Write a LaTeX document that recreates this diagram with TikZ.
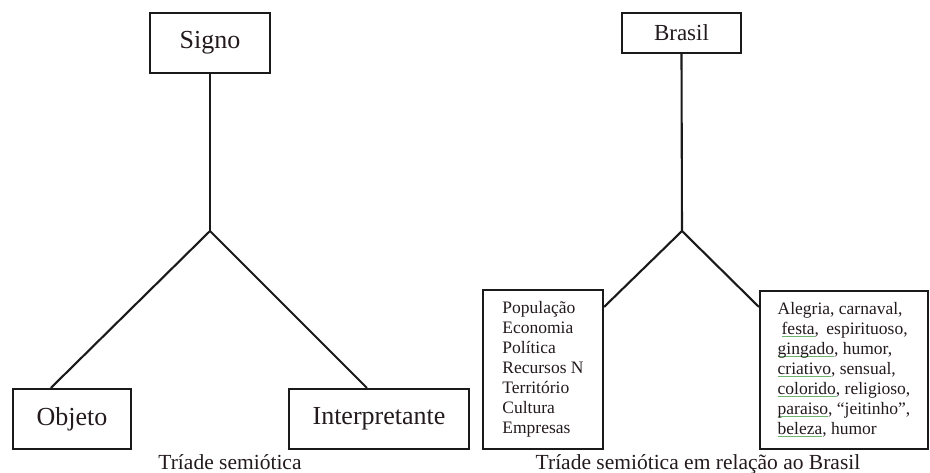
\documentclass[tikz,border=0pt]{standalone}
\usepackage{fontspec}
\setmainfont{Liberation Serif}
\usetikzlibrary{calc}
\definecolor{ink}{HTML}{1A1A1A}
\definecolor{txt}{HTML}{231A1E}
\definecolor{squig}{HTML}{6FB56F}
\newcommand\gul[1]{\setbox0\hbox{#1}\rlap{\textcolor{squig}{\rule[-2.6pt]{\wd0}{0.9pt}}}\box0}
\tikzset{
  box/.style={draw=ink, line width=2.2pt, rectangle, inner sep=0pt, text=txt},
  bigbox/.style={box, minimum height=60pt, font=\fontsize{26}{30}\selectfont},
  listbox/.style={box, align=left, font=\fontsize{17.5}{20}\selectfont},
  link/.style={draw=ink, line width=2.1pt},
  caption/.style={anchor=base, text=txt, font=\fontsize{21.5}{24}\selectfont, inner sep=0pt}
}
\begin{document}
\begin{tikzpicture}[x=1pt,y=-1pt]
\useasboundingbox (0,0) rectangle (930,472);
% left triad
\node[bigbox, minimum width=120pt] (signo) at (210,43) {Signo};
\node[bigbox, minimum width=118pt] (objeto) at (72,419) {Objeto};
\node[bigbox, minimum width=180pt] (interp) at (379,419) {Interpretante};
\coordinate (j1) at (210,231);
\draw[link] (signo.south) -- (j1);
\draw[link] (j1) -- ([xshift=39pt]objeto.north west);
\draw[link] (j1) -- ([xshift=79pt]interp.north west);
\node[caption] (cap1) at (230,469) {Tríade semiótica};
% right triad
\node[box, minimum width=119pt, minimum height=40pt, font=\fontsize{23}{27}\selectfont] (brasil) at (681.5,33) {Brasil};
\node[listbox, minimum width=120pt, minimum height=159pt] (lista) at (543,369.5)
  {População\\Economia\\Política\\Recursos N\\Território\\Cultura\\Empresas};
\node[listbox, minimum width=168pt, minimum height=158pt] (listb) at (844,370)
  {Alegria, carnaval,\\
   \hspace*{4pt}\gul{festa}, \hspace{3pt}espirituoso,\\
   \gul{gingado}, humor,\\
   \gul{criativo}, sensual,\\
   \gul{colorido}, religioso,\\
   \gul{paraiso}, “jeitinho”,\\
   \gul{beleza}, humor};
\coordinate (j2) at (682,231);
\draw[link] (brasil.south) -- (j2);
\draw[link] (j2) -- ([yshift=-18pt]lista.north east);
\draw[link] (j2) -- ([yshift=-17pt]listb.north west);
\node[caption] (cap2) at (698,469) {Tríade semiótica em relação ao Brasil};
\end{tikzpicture}
\end{document}
